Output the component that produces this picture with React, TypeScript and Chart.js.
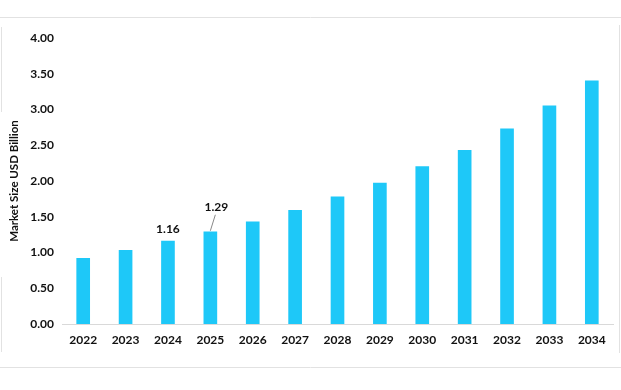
import React, { useEffect, useRef } from "react";
import { Chart, registerables } from "chart.js";

Chart.register(...registerables);

const categories = ["2022", "2023", "2024", "2025", "2026", "2027", "2028", "2029", "2030", "2031", "2032", "2033", "2034"];
const marketSize = [0.92, 1.03, 1.16, 1.29, 1.43, 1.59, 1.78, 1.97, 2.2, 2.43, 2.73, 3.05, 3.4];
const yTicks = [0, 0.5, 1, 1.5, 2, 2.5, 3, 3.5, 4];
const annotatedYears = ["2024", "2025"];

const FONT = "Lato, 'Open Sans', sans-serif";

const framePlugin = {
  id: "frame",
  beforeDraw(chart: any) {
    const ctx = chart.ctx;
    ctx.save();
    ctx.strokeStyle = "#e2e2e2";
    ctx.lineWidth = 1;
    ctx.beginPath();
    ctx.moveTo(0, 17.5);
    ctx.lineTo(621, 17.5);
    ctx.moveTo(0, 367.5);
    ctx.lineTo(621, 367.5);
    ctx.moveTo(1.5, 27);
    ctx.lineTo(1.5, 112);
    ctx.moveTo(1.5, 277);
    ctx.lineTo(1.5, 352);
    ctx.moveTo(619.5, 25);
    ctx.lineTo(619.5, 353);
    ctx.stroke();
    ctx.restore();
  },
};

const labelPlugin = {
  id: "valueLabels",
  afterDatasetsDraw(chart: any) {
    const ctx = chart.ctx;
    const meta = chart.getDatasetMeta(0);
    ctx.save();
    ctx.font = `bold 12px ${FONT}`;
    ctx.fillStyle = "#111";
    ctx.textAlign = "center";
    ctx.textBaseline = "middle";
    annotatedYears.forEach((yr, k) => {
      const i = categories.indexOf(yr);
      const el = meta.data[i];
      const txt = marketSize[i].toFixed(2);
      if (k === 0) {
        ctx.fillText(txt, el.x, el.y - 12);
      } else {
        ctx.fillText(txt, el.x + 6, el.y - 25);
        ctx.strokeStyle = "#888";
        ctx.lineWidth = 1;
        ctx.beginPath();
        ctx.moveTo(el.x, el.y - 1);
        ctx.lineTo(el.x + 5, el.y - 17);
        ctx.stroke();
      }
    });
    ctx.restore();
  },
};

export default function App() {
  const ref = useRef<HTMLCanvasElement | null>(null);
  useEffect(() => {
    document.body.style.margin = "0";
    const chart = new Chart(ref.current as HTMLCanvasElement, {
      type: "bar",
      data: {
        labels: categories,
        datasets: [
          {
            data: marketSize,
            backgroundColor: "#1ec8f8",
            borderWidth: 0,
            barThickness: 13,
          },
        ],
      },
      options: {
        animation: false,
        responsive: false,
        maintainAspectRatio: false,
        layout: { padding: { top: 38, right: 8, bottom: 0, left: 7 } },
        plugins: {
          legend: { display: false },
          tooltip: { enabled: false },
        },
        scales: {
          x: {
            grid: { display: false, drawTicks: false },
            border: { display: true, color: "#d9d9d9", width: 1 },
            ticks: {
              color: "#111",
              padding: 9,
              font: { family: FONT, size: 12, weight: "bold" },
            },
            afterFit(scale: any) {
              scale.height = 66;
            },
          },
          y: {
            min: 0,
            max: 4,
            grid: { display: false, drawTicks: false },
            border: { display: false },
            afterBuildTicks(scale: any) {
              scale.ticks = yTicks.map((v) => ({ value: v }));
            },
            ticks: {
              color: "#111",
              padding: 8,
              font: { family: FONT, size: 12, weight: "bold" },
              callback: (v: any) => Number(v).toFixed(2),
            },
            title: {
              display: true,
              text: "Market Size USD Billion",
              color: "#111",
              padding: { top: 0, bottom: 6 },
              font: { family: FONT, size: 11.5, weight: "bold" },
            },
            afterFit(scale: any) {
              scale.width = 55;
            },
          },
        },
      },
      plugins: [framePlugin, labelPlugin],
    });
    return () => chart.destroy();
  }, []);
  return (
    <div style={{ position: "relative", width: 621, height: 390 }}>
      <canvas ref={ref} width={621} height={390} style={{ display: "block" }} />
    </div>
  );
}
